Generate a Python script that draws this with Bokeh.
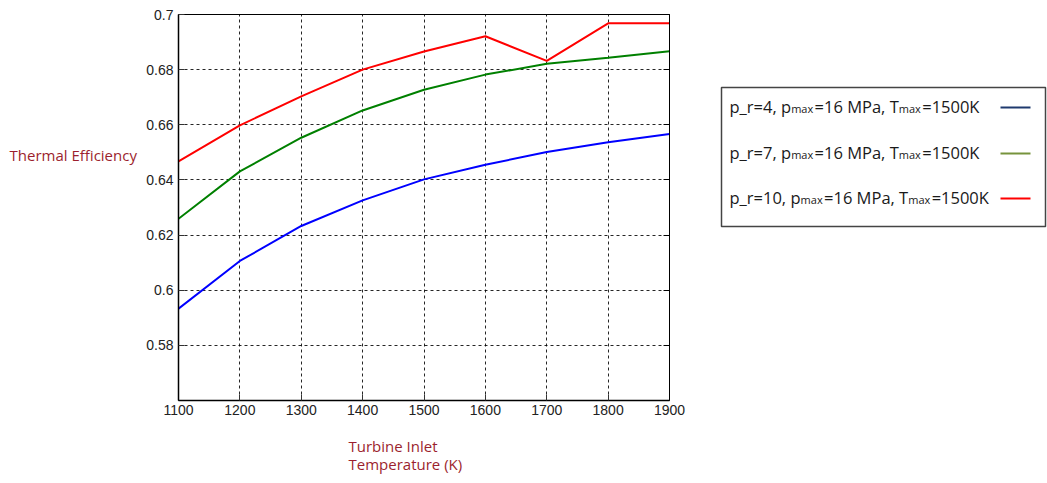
from bokeh.plotting import figure
from bokeh.layouts import row
from bokeh.models import Range1d, FixedTicker, LinearAxis, Title, CustomJSTickFormatter
from bokeh.core.properties import value
from bokeh.embed import file_html
from bokeh.resources import INLINE

# ---- data ----
temps = [1100, 1200, 1300, 1400, 1500, 1600, 1700, 1800, 1900]
eff_pr4 = [0.5933, 0.6106, 0.6233, 0.6326, 0.6402, 0.6455, 0.6501, 0.6537, 0.6567]
eff_pr7 = [0.6259, 0.6431, 0.6553, 0.6652, 0.6727, 0.6782, 0.6821, 0.6843, 0.6867]
eff_pr10 = [0.6467, 0.6598, 0.6703, 0.6800, 0.6866, 0.6921, 0.6832, 0.6968, 0.6968]
x_ticks = [1100, 1200, 1300, 1400, 1500, 1600, 1700, 1800, 1900]
y_ticks = [0.58, 0.60, 0.62, 0.64, 0.66, 0.68, 0.70]
pressure_ratios = ["4", "7", "10"]
# legend text pieces: (text, is_subscript)
def legend_pieces(pr):
    return [("p_r=" + pr + ", p", False), ("max", True), ("=16 MPa, T", False),
            ("max", True), ("=1500K", False)]
y_title = "Thermal Efficiency"
x_title_lines = ["Turbine Inlet", "Temperature (K)"]

line_colors = ["#0000FF", "#008000", "#FF0000"]
legend_colors = ["#1F3A6E", "#77933C", "#FF0000"]
title_color = "#9C1F2E"
FONT = "Open Sans"

# approximate Open Sans advance widths (em) for laying out legend pieces
ADV = {" ": 0.26, ",": 0.25, "=": 0.572, "_": 0.45, "p": 0.613, "r": 0.408, "a": 0.556,
       "m": 0.930, "x": 0.524, "M": 0.905, "P": 0.603, "T": 0.553, "K": 0.59}
def text_width(s, size):
    return sum(ADV.get(ch, 0.572) for ch in s) * size

TOP, BOTTOM = 14, 400
H = 483

# ---- left panel (y title) ----
lf = figure(width=140, height=H, output_backend="svg", toolbar_location=None,
            x_range=Range1d(0, 140), y_range=Range1d(BOTTOM, TOP),
            min_border_left=0, min_border_right=0, min_border_top=TOP, min_border_bottom=H - BOTTOM)
lf.axis.visible = False
lf.grid.visible = False
lf.outline_line_color = None
lf.text(x=[9], y=[154], text=[y_title], text_font=value(FONT), text_font_size="15px",
        text_color=title_color, text_baseline="middle", text_align="left")

# ---- main chart ----
p = figure(width=560, height=H, output_backend="svg", toolbar_location=None,
           x_range=Range1d(1100, 1900), y_range=Range1d(0.56, 0.70),
           min_border_left=38, min_border_right=31, min_border_top=TOP, min_border_bottom=H - BOTTOM)
p.outline_line_color = "black"

for ys, c in zip([eff_pr4, eff_pr7, eff_pr10], line_colors):
    p.line(temps, ys, line_color=c, line_width=2)

for ax in [p.xaxis[0], p.yaxis[0]]:
    ax.axis_line_color = "black"
    ax.axis_line_width = 1.5
    ax.major_tick_in = 6
    ax.major_tick_out = 0
    ax.minor_tick_line_color = None
    ax.major_label_text_font = "Liberation Sans"
    ax.major_label_text_font_size = "14px"
    ax.major_label_text_color = "#222222"
    ax.major_tick_line_color = "#333333"
p.xaxis.ticker = FixedTicker(ticks=x_ticks)
p.yaxis.ticker = FixedTicker(ticks=y_ticks)
p.yaxis.formatter = CustomJSTickFormatter(code="return (Math.round(tick*100)/100).toString();")
p.yaxis.major_label_standoff = 5
p.xaxis.major_label_standoff = 4

right_ax = LinearAxis(ticker=FixedTicker(ticks=y_ticks), major_tick_in=6, major_tick_out=0,
                      minor_tick_line_color=None, major_label_text_alpha=0,
                      major_label_text_font_size="1px", axis_line_color="black")
p.add_layout(right_ax, "right")

for g in [p.xgrid[0], p.ygrid[0]]:
    g.grid_line_color = "black"
    g.grid_line_dash = "3 3"
    g.grid_line_alpha = 0.85
p.xgrid.ticker = FixedTicker(ticks=x_ticks)
p.ygrid.ticker = FixedTicker(ticks=y_ticks)

# white (invisible) spacer between tick labels and the axis title block
spacer = Title(text=".", standoff=13, text_font_size="2px", text_color="white")
p.add_layout(spacer, "below")
xt = Title(text="\n".join(x_title_lines), align="left", offset=170, standoff=0, text_font=FONT,
           text_font_size="15px", text_font_style="normal", text_color=title_color,
           text_line_height=0.9)
p.add_layout(xt, "below")

# ---- legend panel ----
lg = figure(width=347, height=H, output_backend="svg", toolbar_location=None,
            x_range=Range1d(700, 1047), y_range=Range1d(BOTTOM, TOP),
            min_border_left=0, min_border_right=0, min_border_top=TOP, min_border_bottom=H - BOTTOM)
lg.axis.visible = False
lg.grid.visible = False
lg.outline_line_color = None
lg.quad(left=[721], right=[1045], top=[87], bottom=[226], fill_color=None,
        line_color="#444444", line_width=1.5)

MAIN, SUB = 16.5, 11
rows_mid = [107, 153, 198]
xs, ys, ts, sizes = [], [], [], []
for pr, ym in zip(pressure_ratios, rows_mid):
    xcur = 729
    base = ym - 1
    for txt, sub in legend_pieces(pr):
        size = SUB if sub else MAIN
        xs.append(xcur)
        ys.append(base + 2 if sub else base)
        ts.append(txt)
        sizes.append(f"{size}px")
        xcur += text_width(txt, size) + (1.3 if sub else 0)
lg.text(x=xs, y=ys, text=ts, text_font=value(FONT), text_font_size=sizes,
        text_color="#1a1a1a", text_baseline="alphabetic", text_align="left")
for yy, c in zip(rows_mid, legend_colors):
    lg.line([1000, 1030], [yy, yy], line_color=c, line_width=2)

layout = row(lf, p, lg)
open("out.html", "w").write(file_html(layout, INLINE))
